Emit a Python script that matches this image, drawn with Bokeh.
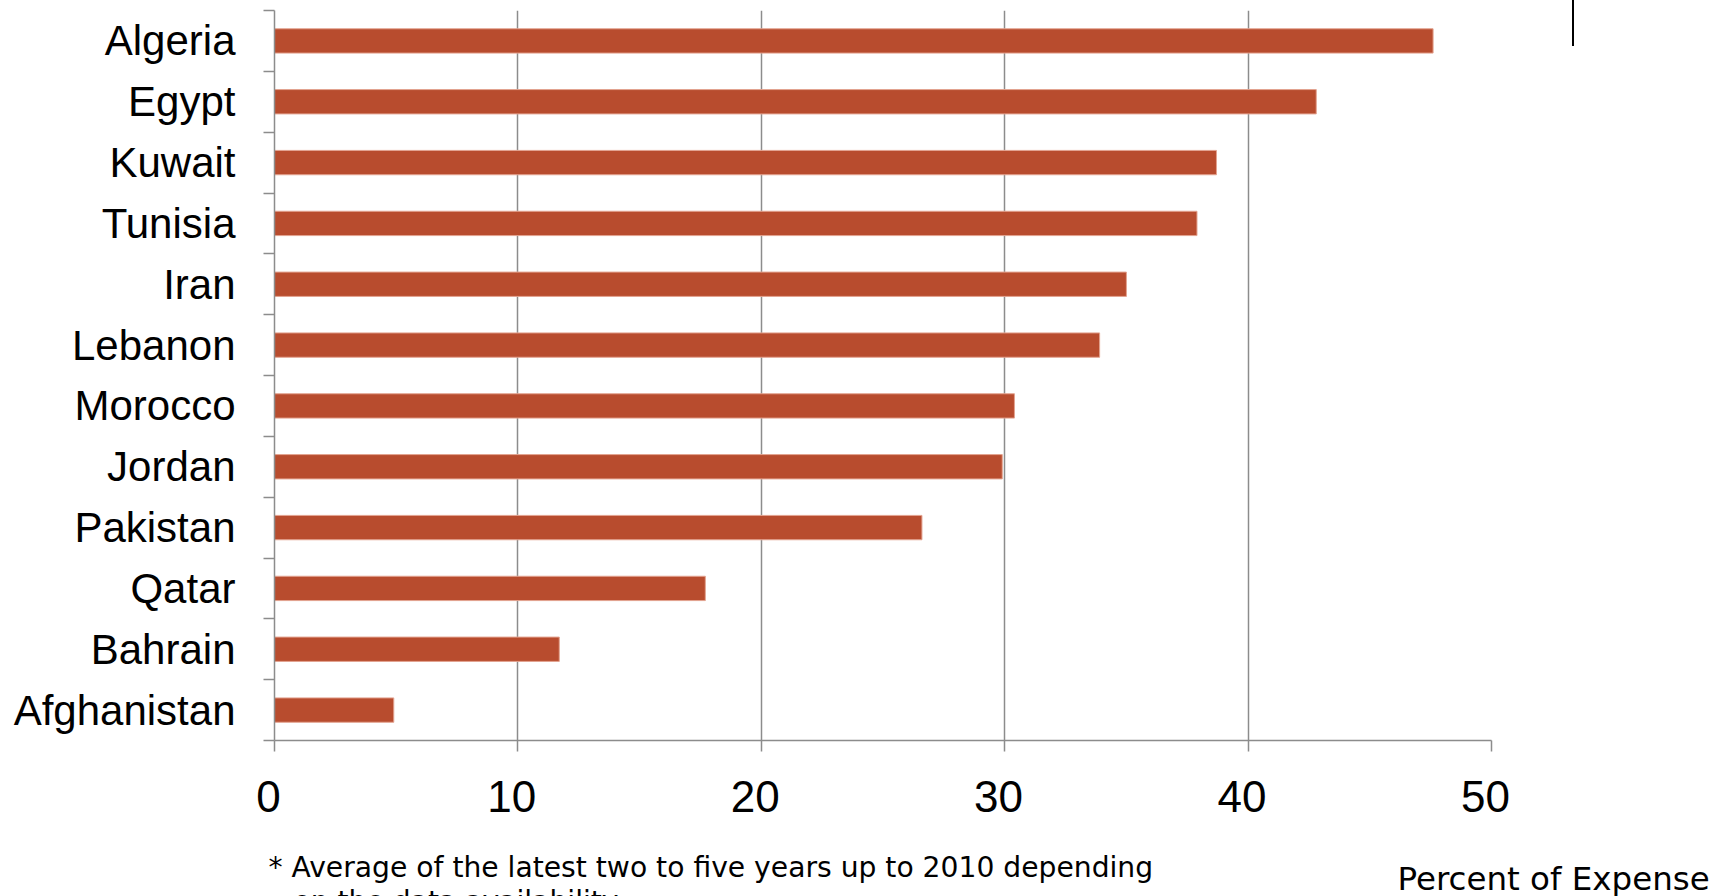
from bokeh.plotting import figure
from bokeh.layouts import column, row
from bokeh.models import Range1d, FixedTicker, Label, ColumnDataSource, Div
from bokeh.embed import file_html
from bokeh.resources import INLINE

countries = ["Algeria", "Egypt", "Kuwait", "Tunisia", "Iran", "Lebanon",
             "Morocco", "Jordan", "Pakistan", "Qatar", "Bahrain", "Afghanistan"]
values = [47.6, 42.8, 38.7, 37.9, 35.0, 33.9, 30.4, 29.9, 26.6, 17.7, 11.7, 4.9]
x_ticks = [0, 10, 20, 30, 40, 50]
footnote = ["* Average of the latest two to five years up to 2010 depending",
            "on the data availability"]
x_title = "Percent of Expense"

n = len(countries)
ypos = [n - i - 0.5 for i in range(n)]
src = ColumnDataSource(dict(y=ypos, v=values, name=countries))

W, H = 1731, 896
MAIN_W, MAIN_H = 1560, 840

p = figure(width=MAIN_W, height=MAIN_H, output_backend="svg", toolbar_location=None,
           x_range=Range1d(0, 50), y_range=Range1d(0, n),
           min_border_left=274, min_border_right=MAIN_W - 1491,
           min_border_top=10, min_border_bottom=MAIN_H - 740)
p.outline_line_color = None
p.background_fill_color = "white"
p.border_fill_color = "white"

p.hbar(y="y", right="v", left=0, height=0.4, source=src,
       fill_color="#B84C2E", line_color="#E3A390", line_width=1)

gray = "#8C8C8C"
# x axis
xa = p.xaxis[0]
xa.ticker = FixedTicker(ticks=x_ticks)
xa.major_label_overrides = {t: str(t) + "\u00a0" for t in x_ticks}
xa.axis_line_color = gray
xa.axis_line_width = 1.5
xa.major_tick_line_color = gray
xa.major_tick_line_width = 1.5
xa.major_tick_in = 0
xa.major_tick_out = 11
xa.minor_tick_line_color = None
xa.major_label_standoff = 20
xa.major_label_text_font = "Liberation Sans"
xa.major_label_text_font_size = "44px"
xa.major_label_text_color = "black"

# y axis
ya = p.yaxis[0]
ya.ticker = FixedTicker(ticks=ypos, minor_ticks=list(range(0, n + 1)))
ya.major_label_overrides = {y: c for y, c in zip(ypos, countries)}
ya.axis_line_color = gray
ya.axis_line_width = 1.5
ya.major_tick_line_color = None
ya.major_tick_in = 0
ya.major_tick_out = 0
ya.minor_tick_line_color = gray
ya.minor_tick_line_width = 1.5
ya.minor_tick_in = 0
ya.minor_tick_out = 11
ya.major_label_standoff = 28
ya.major_label_text_font = "Liberation Sans"
ya.major_label_text_font_size = "42px"
ya.major_label_text_color = "black"

p.xgrid.ticker = FixedTicker(ticks=x_ticks)
p.xgrid.grid_line_color = gray
p.xgrid.grid_line_width = 1.5
p.ygrid.grid_line_color = None

# small black vertical stroke at the top right (decoration)
bar_div = Div(text="", width=2, height=46, margin=(0, 0, 0, 12),
              styles={"background-color": "black"})

# bottom strip: footnote and axis title
bot_h = H - MAIN_H
pb = figure(width=W, height=bot_h, output_backend="svg", toolbar_location=None,
            title=None,
            x_range=Range1d(0, W), y_range=Range1d(bot_h, 0),
            x_axis_location=None, y_axis_location=None, min_border=0)
pb.outline_line_color = None
pb.grid.visible = False
common = dict(text_color="black", text_font="DejaVu Sans", text_baseline="top")
pb.add_layout(Label(x=268, y=10, text=footnote[0], text_font_size="28.2px", **common))
pb.add_layout(Label(x=293, y=44, text=footnote[1], text_font_size="28.2px", **common))
pb.add_layout(Label(x=1397, y=19, text=x_title, text_font_size="32.5px", **common))

layout = column(row(p, bar_div, spacing=0), pb, spacing=0)
open("out.html", "w").write(file_html(layout, INLINE))
